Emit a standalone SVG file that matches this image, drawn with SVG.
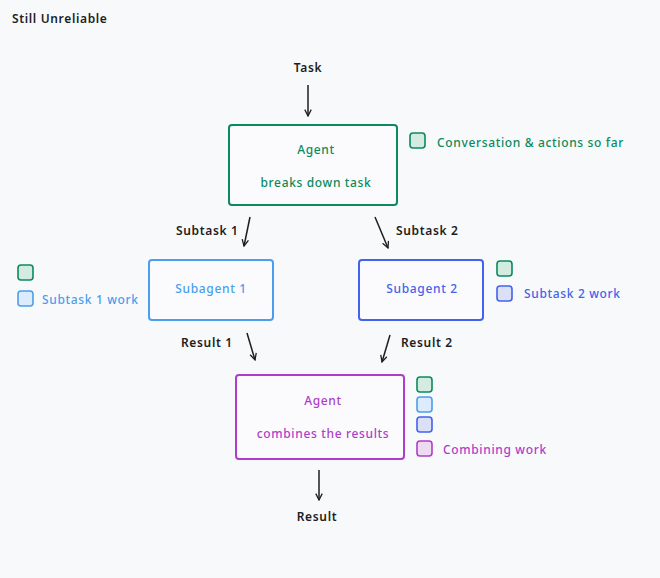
<svg xmlns="http://www.w3.org/2000/svg" width="660" height="578" viewBox="0 0 660 578">
<style>
text{font-family:"Noto Sans","Liberation Sans",sans-serif;font-size:12px;font-weight:500;letter-spacing:0.65px}
.k{fill:#1e1e1e;font-weight:600}
.g{fill:#0c8a5c}.lb{fill:#4a9eed}.db{fill:#4263eb}.p{fill:#ae3ec9}
.box{fill:#fbfbfd;stroke-width:2}
.sq{stroke-width:1.6}
.sg{fill:#d3ebe1;stroke:#0c8a5c}.sl{fill:#dcebfd;stroke:#4a9eed}.sd{fill:#dbe0f8;stroke:#4263eb}.sp{fill:#eddcf1;stroke:#ae3ec9}
.c line{stroke:#1e1e1e;stroke-width:1.5;marker-end:url(#ah)}
</style>
<defs>
<marker id="ah" viewBox="0 0 10 10" refX="9" refY="5" markerWidth="8" markerHeight="8" orient="auto" markerUnits="userSpaceOnUse">
<path d="M1,1 L9,5 L1,9" fill="none" stroke="#1e1e1e" stroke-width="1.6"/>
</marker>
</defs>
<rect width="660" height="578" fill="#f8f9fb"/>
<text x="12" y="23" class="k">Still Unreliable</text>
<text x="308" y="72" class="k" text-anchor="middle">Task</text>
<g class="c" id="connectors">
<line x1="308" y1="85" x2="308" y2="116"/>
<line x1="250" y1="217" x2="244" y2="246"/>
<line x1="375" y1="217" x2="388" y2="248"/>
<line x1="247" y1="333" x2="255" y2="360"/>
<line x1="390" y1="335" x2="382" y2="362"/>
<line x1="319" y1="470" x2="319" y2="500"/>
</g>
<g id="agent1">
<rect x="229" y="125" width="168" height="80" rx="3" class="box" stroke="#0c8a5c"/>
<text x="316" y="154" class="g" text-anchor="middle">Agent</text>
<text x="316" y="187" class="g" text-anchor="middle">breaks down task</text>
<rect x="410" y="133" width="15" height="15" rx="3" class="sq sg"/>
<text x="437" y="147" class="g">Conversation &amp; actions so far</text>
</g>
<text x="176" y="235" class="k">Subtask 1</text>
<text x="396" y="235" class="k">Subtask 2</text>
<g id="subagent1">
<rect x="149" y="260" width="124" height="60" rx="3" class="box" stroke="#4a9eed"/>
<text x="211" y="293" class="lb" text-anchor="middle">Subagent 1</text>
<rect x="18" y="265" width="15" height="15" rx="3" class="sq sg"/>
<rect x="18" y="291" width="15" height="15" rx="3" class="sq sl"/>
<text x="42" y="304" class="lb">Subtask 1 work</text>
</g>
<g id="subagent2">
<rect x="359" y="260" width="124" height="60" rx="3" class="box" stroke="#4263eb"/>
<text x="422" y="293" class="db" text-anchor="middle">Subagent 2</text>
<rect x="497" y="261" width="15" height="15" rx="3" class="sq sg"/>
<rect x="497" y="286" width="15" height="15" rx="3" class="sq sd"/>
<text x="524" y="298" class="db">Subtask 2 work</text>
</g>
<text x="181" y="347" class="k">Result 1</text>
<text x="401" y="347" class="k">Result 2</text>
<g id="agent2">
<rect x="236" y="375" width="168" height="84" rx="3" class="box" stroke="#ae3ec9"/>
<text x="323" y="405" class="p" text-anchor="middle">Agent</text>
<text x="323" y="438" class="p" text-anchor="middle">combines the results</text>
<rect x="417" y="377" width="15" height="15" rx="3" class="sq sg"/>
<rect x="417" y="397" width="15" height="15" rx="3" class="sq sl"/>
<rect x="417" y="417" width="15" height="15" rx="3" class="sq sd"/>
<rect x="417" y="441" width="15" height="15" rx="3" class="sq sp"/>
<text x="443" y="454" class="p">Combining work</text>
</g>
<text x="317" y="521" class="k" text-anchor="middle">Result</text>
</svg>
